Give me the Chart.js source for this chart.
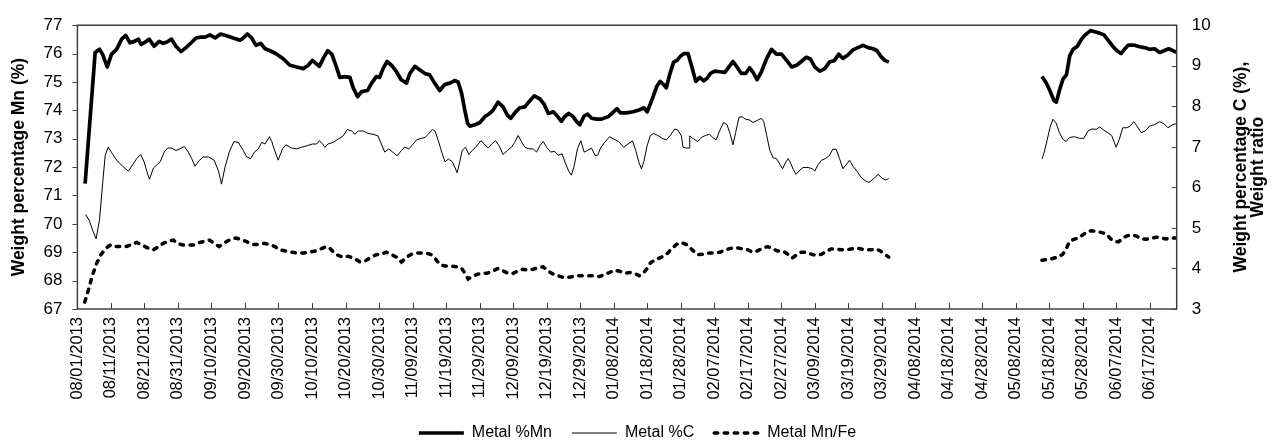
<!DOCTYPE html>
<html>
<head>
<meta charset="utf-8">
<script src="https://cdn.jsdelivr.net/npm/chart.js@4.4.1/dist/chart.umd.min.js"></script>
<style>
html,body{margin:0;padding:0;background:#fff;}
#wrap{width:1275px;height:445px;position:relative;}
</style>
</head>
<body>
<div id="wrap"><canvas id="c" width="1275" height="445"></canvas></div>
<script>
// Tick labels (one every 10 days, day 0 = 08/01/2013)
const tickLabels = ["08/01/2013","08/11/2013","08/21/2013","08/31/2013","09/10/2013","09/20/2013","09/30/2013","10/10/2013","10/20/2013","10/30/2013","11/09/2013","11/19/2013","11/29/2013","12/09/2013","12/19/2013","12/29/2013","01/08/2014","01/18/2014","01/28/2014","02/07/2014","02/17/2014","02/27/2014","03/09/2014","03/19/2014","03/29/2014","04/08/2014","04/18/2014","04/28/2014","05/08/2014","05/18/2014","05/28/2014","06/07/2014","06/17/2014"];

// Metal %Mn (left axis) — day offset from 08/01/2013, value
const mnDays = [2.3,5.3,6.6,7.5,8.9,10.2,11.7,13.2,14.4,15.7,17.0,18.2,19.0,20.2,21.4,22.9,24.4,25.6,26.6,28.1,29.4,30.9,32.4,34.1,35.4,36.8,38.1,39.6,41.1,42.7,44.5,46.5,48.5,49.5,50.7,52.0,53.3,54.7,56.0,57.5,59.5,61.5,63.4,65.4,67.4,68.9,70.1,72.2,73.4,74.7,75.9,77.1,78.3,79.8,81.3,
82.3,83.6,84.8,86.6,87.8,89.2,90.2,91.2,92.4,93.7,95.2,96.6,98.2,99.2,100.7,102.2,103.7,105.1,106.6,108.1,109.6,111.1,112.6,113.6,114.6,115.6,116.4,117.1,118.6,120.1,121.6,123.0,124.0,125.5,127.0,128.3,129.3,130.5,132.0,133.5,135.0,136.3,138.0,139.3,140.5,142.0,143.3,144.4,145.4,146.6,147.9,148.9,149.9,151.2,152.2,153.4,154.9,156.4,158.4,160.0,161.0,162.0,
163.8,165.8,167.8,169.0,170.0,170.9,171.7,172.9,173.9,174.9,175.7,176.7,177.9,178.9,179.9,180.9,182.2,183.2,184.5,185.7,186.9,187.9,188.9,190.2,191.7,193.2,194.4,195.6,196.8,198.1,199.4,200.6,201.6,202.8,204.1,205.6,207.1,208.6,210.1,211.6,213.1,214.6,216.0,217.5,218.7,220.0,221.5,223.0,224.4,225.9,227.2,228.4,229.9,231.4,232.9,234.4,235.9,237.4,238.6,239.6,240.9,242.1,
265,
287.8,289.0,290.0,291.4,292.1,293.1,294.1,295.1,296.1,297.1,298.4,299.5,300.7,302.3,303.5,305.0,306.3,307.4,308.9,310.2,311.4,312.4,313.6,315.2,316.9,318.4,319.9,321.4,322.9,324.2,325.6,326.9,327.9];
const mnValues = [71.42,76.04,76.15,75.98,75.53,75.98,76.15,76.51,76.64,76.38,76.43,76.51,76.32,76.40,76.51,76.26,76.43,76.36,76.40,76.51,76.26,76.07,76.21,76.40,76.55,76.58,76.58,76.66,76.55,76.69,76.63,76.55,76.47,76.55,76.69,76.55,76.29,76.36,76.17,76.10,75.98,75.81,75.59,75.53,75.47,75.59,75.76,75.55,75.84,76.10,75.98,75.59,75.16,75.19,75.16,
74.79,74.48,74.66,74.70,74.96,75.19,75.16,75.47,75.72,75.59,75.36,75.08,74.96,75.30,75.55,75.42,75.30,75.25,74.96,74.70,74.91,74.96,75.05,75.00,74.62,74.00,73.55,73.44,73.49,73.57,73.78,73.89,74.00,74.29,74.12,73.83,73.72,73.91,74.09,74.12,74.34,74.51,74.40,74.21,73.89,73.95,73.78,73.61,73.78,73.89,73.78,73.61,73.49,73.80,73.87,73.72,73.69,73.69,73.78,73.95,74.06,73.91,
73.91,73.95,74.02,74.09,73.95,74.21,74.46,74.85,75.02,74.91,74.79,75.25,75.70,75.76,75.90,76.00,76.00,75.59,75.02,75.16,75.04,75.13,75.30,75.38,75.36,75.34,75.53,75.72,75.53,75.30,75.30,75.50,75.34,75.08,75.36,75.81,76.15,75.98,75.98,75.76,75.53,75.59,75.72,75.87,75.81,75.53,75.38,75.47,75.70,75.76,75.98,75.83,75.95,76.13,76.21,76.29,76.21,76.17,76.10,75.92,75.76,75.70,
null,
75.19,74.98,74.74,74.34,74.29,74.74,75.11,75.25,75.93,76.15,76.26,76.49,76.66,76.81,76.77,76.72,76.66,76.49,76.26,76.10,76.00,76.15,76.30,76.30,76.24,76.21,76.15,76.17,76.04,76.10,76.17,76.10,76.04];

// Metal %C (right axis)
const cDays = [2.5,3.6,4.6,5.6,6.6,7.6,8.3,9.2,10.2,11.7,13.5,15.2,16.5,17.7,18.9,19.9,20.7,21.5,22.7,23.9,24.7,25.9,26.9,28.1,29.4,30.6,31.9,33.1,34.1,35.1,36.4,37.6,39.1,40.8,42.1,43.0,44.0,45.3,46.7,48.0,49.5,50.5,51.7,52.8,54.0,55.0,56.0,57.3,58.0,58.6,59.9,61.2,62.2,63.9,65.4,66.9,68.6,70.2,71.4,72.2,73.2,73.8,74.8,76.3,77.8,79.3,80.5,
81.8,82.8,83.8,85.3,86.7,88.2,89.7,90.7,91.7,92.9,94.2,95.4,96.7,97.7,98.9,100.2,101.2,102.5,103.7,104.7,105.9,106.7,107.7,108.7,109.7,110.7,111.9,112.7,113.3,114.1,114.8,115.8,116.8,117.8,118.8,119.6,120.4,121.4,122.6,123.6,124.8,125.8,127.0,128.3,129.5,130.5,131.5,132.5,133.5,134.7,136.0,137.0,138.0,139.0,140.0,141.2,142.4,143.4,144.6,145.6,146.6,147.4,148.2,149.2,150.2,151.2,152.2,153.4,154.4,155.2,156.1,157.3,158.8,160.1,161.5,
163.0,164.3,165.6,166.6,167.6,168.3,169.0,170.0,170.9,171.9,173.2,174.5,175.7,176.9,178.2,179.2,180.2,180.7,181.7,182.5,182.7,183.9,185.1,186.1,187.4,188.6,189.6,190.6,191.6,192.8,193.8,194.8,195.6,196.4,197.4,198.4,199.4,200.6,201.6,202.8,204.1,204.8,205.6,206.6,207.6,208.6,209.6,210.4,211.4,212.1,212.8,213.6,214.4,215.4,216.5,218.0,219.3,220.0,221.0,222.0,223.2,224.4,225.4,226.4,227.4,228.4,229.4,230.4,231.4,232.6,233.9,235.2,236.2,237.4,238.9,240.2,241.2,242.1,
265,
287.8,288.5,289.4,290.3,291.1,292.0,293.0,294.0,295.0,296.0,297.5,299.0,300.3,301.5,302.7,304.0,305.0,306.3,307.4,308.6,309.9,310.9,311.9,313.2,314.2,315.2,316.2,317.4,318.6,319.9,321.4,322.9,324.2,325.4,326.9,327.9];
const cValues = [5.33,5.17,4.93,4.73,5.21,6.16,6.79,6.99,6.86,6.67,6.52,6.40,6.56,6.71,6.81,6.63,6.40,6.20,6.48,6.57,6.63,6.87,6.97,6.97,6.91,6.95,7.01,6.87,6.71,6.52,6.67,6.75,6.75,6.67,6.40,6.08,6.48,6.87,7.13,7.11,6.91,6.75,6.71,6.87,6.95,7.11,7.07,7.25,7.13,6.97,6.67,6.95,7.05,6.97,6.95,6.99,7.03,7.07,7.07,7.15,7.07,6.99,7.07,7.11,7.19,7.27,7.43,
7.39,7.31,7.39,7.39,7.33,7.31,7.27,7.07,6.87,6.95,6.86,6.78,6.91,6.99,6.95,7.07,7.17,7.21,7.23,7.31,7.43,7.39,7.15,6.87,6.63,6.70,6.63,6.48,6.36,6.63,6.91,6.99,6.81,6.91,6.99,7.07,7.15,7.07,6.97,7.07,7.15,7.03,6.81,6.91,6.99,7.11,7.28,7.13,6.99,6.95,6.95,6.87,7.03,7.13,6.99,6.87,6.89,6.79,6.83,6.60,6.40,6.30,6.52,6.95,7.15,6.87,6.91,6.97,6.79,6.79,6.97,7.11,7.25,7.19,7.13,
6.99,7.07,7.15,6.91,6.60,6.46,6.63,7.03,7.27,7.33,7.28,7.21,7.17,7.28,7.44,7.41,7.27,6.99,6.97,6.97,7.27,7.19,7.13,7.23,7.28,7.31,7.23,7.17,7.39,7.60,7.55,7.31,7.05,7.35,7.73,7.74,7.68,7.66,7.60,7.65,7.70,7.62,7.31,6.91,6.73,6.71,6.57,6.46,6.63,6.71,6.60,6.44,6.32,6.41,6.49,6.49,6.46,6.40,6.56,6.67,6.71,6.79,6.94,6.94,6.71,6.46,6.56,6.67,6.52,6.40,6.24,6.16,6.12,6.20,6.32,6.22,6.18,6.22,
null,
6.70,6.87,7.19,7.51,7.68,7.59,7.35,7.19,7.13,7.23,7.25,7.21,7.21,7.39,7.44,7.43,7.49,7.41,7.35,7.28,6.99,7.19,7.47,7.47,7.52,7.62,7.51,7.35,7.39,7.51,7.55,7.62,7.57,7.47,7.55,7.57];

// Metal Mn/Fe (right axis)
const feDays = [2.2,3.3,4.3,5.6,7.0,8.5,9.9,11.5,12.9,14.5,16.2,17.7,19.2,20.9,22.7,24.2,25.6,27.1,28.6,29.8,31.4,33.1,34.8,36.4,38.1,39.4,40.8,42.3,43.7,45.5,47.3,49.0,50.5,52.3,54.0,55.7,57.4,58.9,60.4,62.2,63.9,65.6,67.4,69.2,70.9,72.6,74.2,75.3,76.5,77.8,79.3,80.8,
82.8,84.3,85.8,87.6,89.2,90.7,92.2,93.7,95.2,96.7,98.2,99.7,101.2,102.6,104.1,105.6,106.8,108.1,109.6,111.4,113.1,114.6,115.8,116.6,117.8,119.4,121.0,122.5,124.0,125.5,127.0,128.5,130.0,131.5,133.0,134.5,136.0,137.5,139.0,140.5,142.0,143.4,144.9,146.4,147.9,149.4,150.9,152.4,154.1,155.8,157.3,158.8,160.3,161.8,
163.3,164.8,166.3,167.6,168.8,169.8,171.0,172.6,174.3,175.7,177.2,178.7,180.2,181.7,183.2,184.9,186.7,188.5,190.2,191.7,193.4,195.1,196.8,198.6,200.1,201.4,202.8,204.4,206.0,207.5,209.0,210.5,212.0,213.3,214.7,216.0,217.5,219.0,220.5,222.0,223.4,224.9,226.4,227.9,229.4,230.9,232.4,233.9,235.4,236.9,238.4,239.6,240.9,242.1,
265,
287.8,289.3,290.7,292.5,294.0,295.0,296.0,297.3,298.7,300.0,301.3,302.7,304.0,305.5,307.0,308.3,309.5,310.7,311.7,313.0,314.5,316.0,317.4,318.9,320.4,322.0,323.4,324.9,326.4,327.9];
const feValues = [3.17,3.47,3.78,4.10,4.34,4.50,4.58,4.54,4.54,4.54,4.59,4.64,4.58,4.51,4.46,4.54,4.62,4.67,4.70,4.62,4.58,4.58,4.58,4.64,4.67,4.70,4.62,4.54,4.62,4.71,4.75,4.71,4.66,4.59,4.59,4.62,4.59,4.54,4.46,4.43,4.40,4.38,4.38,4.40,4.43,4.48,4.54,4.50,4.40,4.32,4.28,4.30,
4.24,4.16,4.18,4.28,4.34,4.35,4.40,4.34,4.28,4.16,4.28,4.35,4.38,4.38,4.38,4.34,4.24,4.10,4.06,4.06,4.04,4.01,3.86,3.74,3.80,3.86,3.88,3.89,3.94,4.00,3.94,3.88,3.88,3.94,3.98,3.96,3.98,4.02,4.04,3.93,3.86,3.82,3.78,3.78,3.80,3.82,3.82,3.82,3.82,3.80,3.85,3.90,3.96,3.93,
3.88,3.90,3.88,3.82,3.88,3.98,4.14,4.22,4.28,4.34,4.48,4.59,4.64,4.59,4.48,4.34,4.35,4.38,4.38,4.40,4.46,4.50,4.51,4.48,4.46,4.40,4.43,4.50,4.54,4.48,4.43,4.43,4.35,4.26,4.34,4.40,4.40,4.35,4.32,4.35,4.42,4.48,4.48,4.46,4.46,4.48,4.50,4.48,4.46,4.46,4.48,4.43,4.35,4.28,
null,
4.20,4.22,4.24,4.28,4.35,4.48,4.66,4.72,4.75,4.83,4.91,4.93,4.91,4.89,4.85,4.73,4.66,4.66,4.73,4.80,4.83,4.80,4.73,4.72,4.75,4.77,4.75,4.73,4.75,4.75];

const leftTicks = [67,68,69,70,71,72,73,74,75,76,77];
const rightTicks = [3,4,5,6,7,8,9,10];

const FONT = '"Liberation Sans", Arial, sans-serif';
const AXIS_COLOR = '#404040';

function pts(days, vals){ return days.map((d,i)=>({x:d, y:vals[i]})); }

// Frame, inward tick marks and right-axis title (drawn rotated like the reference)
const decor = {
  id: 'decor',
  afterDraw(chart){
    const ctx = chart.ctx, a = chart.chartArea;
    const x = chart.scales.x, yl = chart.scales.y, yr = chart.scales.y2;
    ctx.save();
    ctx.strokeStyle = AXIS_COLOR;
    ctx.lineWidth = 1.5;
    ctx.strokeRect(a.left, a.top, a.right - a.left, a.bottom - a.top);
    ctx.lineWidth = 1;
    ctx.beginPath();
    x.ticks.forEach(t => { const px = Math.round(x.getPixelForValue(t.value)) + 0.5; ctx.moveTo(px, a.bottom); ctx.lineTo(px, a.bottom - 6); });
    leftTicks.forEach(v => { const py = Math.round(yl.getPixelForValue(v)) + 0.5; ctx.moveTo(a.left - 5, py); ctx.lineTo(a.left, py); });
    rightTicks.forEach(v => { const py = Math.round(yr.getPixelForValue(v)) + 0.5; ctx.moveTo(a.right - 5, py); ctx.lineTo(a.right, py); });
    ctx.stroke();
    // right title
    const lines = yr.options.title.text;
    ctx.fillStyle = '#000';
    ctx.font = 'bold 17.5px ' + FONT;
    ctx.textAlign = 'center';
    ctx.textBaseline = 'middle';
    const cy = (a.top + a.bottom) / 2;
    lines.forEach((ln, i) => {
      ctx.save();
      ctx.translate(a.right + 64 + i * 17.5, cy);
      ctx.rotate(-Math.PI / 2);
      ctx.fillText(ln, 0, 0);
      ctx.restore();
    });
    ctx.restore();
  }
};

new Chart(document.getElementById('c'), {
  type: 'line',
  data: {
    datasets: [
      { label: 'Metal %Mn', data: pts(mnDays, mnValues), yAxisID: 'y', borderColor: '#000', backgroundColor: '#000', borderWidth: 3.7, pointRadius: 0, pointHoverRadius: 0, pointStyle: 'line', spanGaps: false, tension: 0, borderJoinStyle: 'round' },
      { label: 'Metal %C', data: pts(cDays, cValues), yAxisID: 'y2', borderColor: '#000', backgroundColor: '#000', borderWidth: 1, pointRadius: 0, pointHoverRadius: 0, pointStyle: 'line', spanGaps: false, tension: 0 },
      { label: 'Metal Mn/Fe', data: pts(feDays, feValues), yAxisID: 'y2', borderColor: '#000', backgroundColor: '#000', borderWidth: 3.5, borderDash: [3.5, 6.5], borderCapStyle: 'round', pointRadius: 0, pointHoverRadius: 0, pointStyle: 'line', spanGaps: false, tension: 0 }
    ]
  },
  options: {
    responsive: false,
    animation: false,
    events: [],
    layout: { padding: { top: 15, left: 0, right: 0, bottom: -6 } },
    plugins: {
      tooltip: { enabled: false },
      legend: {
        position: 'bottom',
        labels: {
          usePointStyle: true, pointStyleWidth: 45, color: '#000', font: { family: FONT, size: 16 }, padding: 20,
          generateLabels: (chart) => {
            const items = Chart.defaults.plugins.legend.labels.generateLabels(chart);
            items.forEach(it => {
              const ds = chart.data.datasets[it.datasetIndex];
              it.lineDash = ds.borderDash || [];
              it.lineCap = ds.borderCapStyle || 'butt';
              it.lineWidth = ds.borderWidth;
              it.strokeStyle = '#000';
            });
            return items;
          }
        }
      }
    },
    scales: {
      x: {
        type: 'linear', position: 'bottom', min: 0, max: 328,
        afterBuildTicks: s => { s.ticks = tickLabels.map((_, i) => ({ value: i * 10 })); },
        afterFit: s => { s.height = 96; },
        ticks: { autoSkip: false, minRotation: 90, maxRotation: 90, padding: 8, color: '#000', font: { family: FONT, size: 16.5 },
          callback: (v, i) => tickLabels[i] },
        grid: { display: false, drawTicks: false },
        border: { display: false }
      },
      y: {
        position: 'left', min: 67, max: 77,
        afterBuildTicks: s => { s.ticks = leftTicks.map(v => ({ value: v })); },
        afterFit: s => { s.width = 77.4; },
        ticks: { padding: 15, color: '#000', font: { family: FONT, size: 17 } },
        grid: { display: false, drawTicks: false },
        border: { display: false },
        title: { display: true, text: 'Weight percentage Mn (%)', color: '#000', font: { family: FONT, size: 17.5, weight: 'bold' }, padding: { top: 9, bottom: 0 } }
      },
      y2: {
        position: 'right', min: 3, max: 10,
        afterBuildTicks: s => { s.ticks = rightTicks.map(v => ({ value: v })); },
        afterFit: s => { s.width = 98.3; },
        ticks: { padding: 15, color: '#000', font: { family: FONT, size: 17 } },
        grid: { display: false, drawTicks: false },
        border: { display: false },
        title: { display: false, text: ['Weight percentage C (%),', 'Weight ratio'], color: '#000', font: { family: FONT, size: 17.5, weight: 'bold' } }
      }
    }
  },
  plugins: [decor]
});
</script>
</body>
</html>
